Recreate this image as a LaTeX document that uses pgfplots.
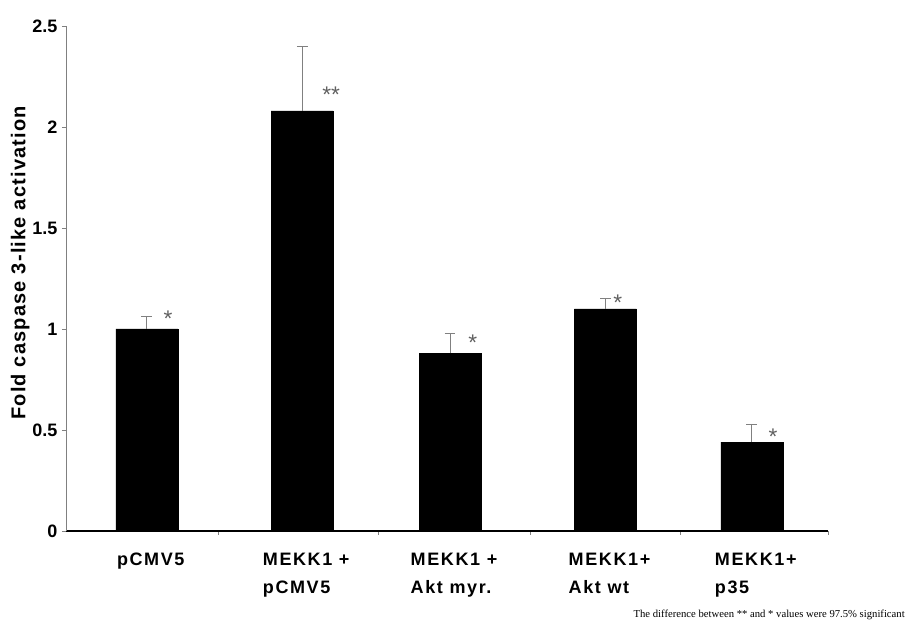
\documentclass[border=0pt]{standalone}
\usepackage{fontspec}
\setmainfont{Liberation Sans}
\newfontfamily\notefont{Liberation Serif}
\usepackage{pgfplots}
\pgfplotsset{compat=1.18}
\usepackage{pgfplotstable}

% group position, mean fold activation, upper error
\pgfplotstableread{
x     y     err
0.03  1.00  0.06
1.05  2.08  0.32
2.02  0.88  0.10
3.04  1.10  0.05
4.00  0.44  0.09
}\caspase

\begin{document}
\begin{tikzpicture}
\begin{axis}[
  at={(0,0)}, anchor=south west,
  scale only axis,
  width=571.5pt, height=378.75pt,
  xmin=-0.5, xmax=4.5,
  ymin=0, ymax=2.5,
  axis lines=left,
  axis line style={-},
  x axis line style={black, line width=1.3pt},
  y axis line style={gray, line width=0.6pt},
  xtick=data,
  xticklabels={pCMV5, {MEKK1 +\\pCMV5}, {MEKK1 +\\Akt myr.}, {MEKK1+\\Akt wt}, {MEKK1+\\p35}},
  major x tick style={draw=none},
  minor xtick={0.5,1.55,2.55,3.53,4.5},
  minor x tick style={gray, line width=0.5pt},
  minor tick length=3pt,
  xticklabel style={font=\fontsize{13.5}{21}\selectfont\bfseries\addfontfeature{LetterSpace=9},
    align=left, anchor=north, yshift=-10pt, xshift=3pt},
  ytick={0,0.5,1,1.5,2,2.5},
  yticklabel style={font=\fontsize{13.5}{16}\selectfont\bfseries},
  /pgf/number format/assume math mode=true,
  major y tick style={gray, line width=0.5pt},
  major tick length=3pt,
  tick align=outside,
  ylabel={Fold caspase 3-like activation},
  ylabel style={at={(axis description cs:-0.06,0.531)}, anchor=center,
    font=\fontsize{15}{18}\selectfont\bfseries\addfontfeature{LetterSpace=6}},
  clip=false,
]
\addplot[ybar, bar width=46.5pt, fill=black, draw=black,
  error bars/.cd, y dir=plus, y explicit,
  error bar style={gray, line width=0.6pt},
  error mark options={rotate=90, mark size=4pt, gray, line width=0.6pt}]
  table[x=x, y=y, y error=err] {\caspase};

% significance markers
\begin{scope}[every node/.style={font=\fontsize{17}{17}\selectfont, text=gray!75!black, inner sep=0pt}]
\node at (axis cs:0.17,1.05) {*};
\node at (axis cs:1.24,2.16) {**};
\node at (axis cs:2.17,0.93) {*};
\node at (axis cs:3.12,1.13) {*};
\node at (axis cs:4.14,0.465) {*};
\end{scope}
\end{axis}
\node[anchor=east, inner sep=0pt, font=\notefont\fontsize{8}{10}\selectfont] at (629.25pt,-63pt)
  {The difference between ** and * values were 97.5\% significant};
\useasboundingbox (-49.5pt,-72pt) rectangle (631.5pt,398.25pt);
\end{tikzpicture}
\end{document}
